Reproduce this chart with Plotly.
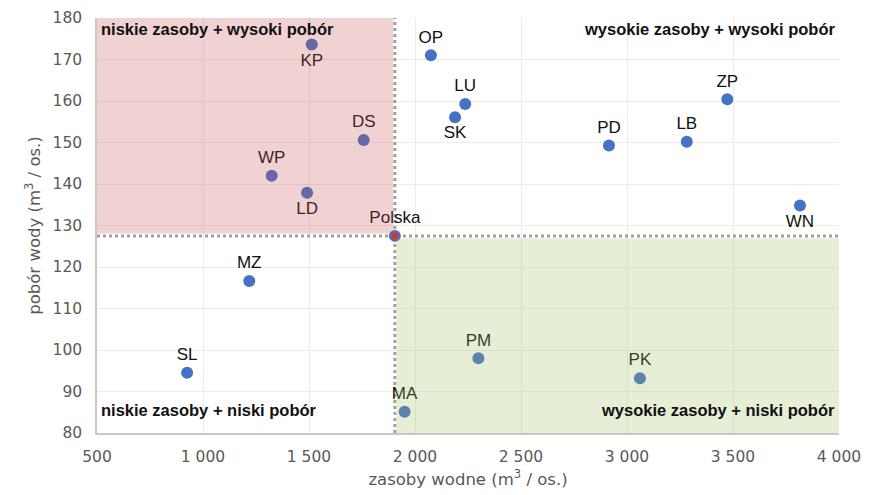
import plotly.graph_objects as go

# Data
regions = ["KP", "OP", "DS", "WP", "LD", "LU", "SK", "PD", "LB", "ZP", "WN", "MZ", "SL", "MA", "PM", "PK"]
zasoby = [1513, 2075, 1758, 1324, 1491, 2237, 2189, 2915, 3282, 3473, 3816, 1218, 925, 1951, 2299, 3061]
pobor = [173.6, 171.0, 150.6, 142.0, 137.9, 159.3, 156.1, 149.3, 150.2, 160.4, 134.8, 116.6, 94.5, 85.1, 98.0, 93.2]
label_pos = ["bottom center", "top center", "top center", "top center", "bottom center", "top center",
             "bottom center", "top center", "top center", "top center", "bottom center", "top center",
             "top center", "top center", "top center", "top center"]
polska_name = "Polska"
polska_x = 1905
polska_y = 127.5

x_min, x_max = 500, 4000
y_min, y_max = 80, 180
x_ticks = [500, 1000, 1500, 2000, 2500, 3000, 3500, 4000]
y_ticks = [80, 90, 100, 110, 120, 130, 140, 150, 160, 170, 180]

quadrants = ["niskie zasoby + wysoki pobór", "wysokie zasoby + wysoki pobór",
             "niskie zasoby + niski pobór", "wysokie zasoby + niski pobór"]

BLUE = "#4472C4"
LABEL_FONT = dict(family="Liberation Sans, Arial, sans-serif", size=17, color="#111111")

fig = go.Figure()

# crosshair dotted lines through Polska
fig.add_trace(go.Scatter(x=[x_min, x_max], y=[polska_y, polska_y], mode="lines",
                         line=dict(color="#A0A0A0", width=3, dash="3px,3px"),
                         hoverinfo="skip", showlegend=False))
fig.add_trace(go.Scatter(x=[polska_x, polska_x], y=[y_min, y_max], mode="lines",
                         line=dict(color="#A0A0A0", width=3, dash="3px,3px"),
                         hoverinfo="skip", showlegend=False))

# regions
fig.add_trace(go.Scatter(x=zasoby, y=pobor, mode="markers+text", text=regions,
                         textposition=label_pos, textfont=LABEL_FONT,
                         marker=dict(color=BLUE, size=12), showlegend=False))

# Polska
fig.add_trace(go.Scatter(x=[polska_x], y=[polska_y], mode="markers+text", text=[polska_name],
                         textposition="top center", textfont=LABEL_FONT,
                         marker=dict(color=BLUE, size=12), showlegend=False))
fig.add_trace(go.Scatter(x=[polska_x], y=[polska_y], mode="markers",
                         marker=dict(color="#E0301E", size=6, symbol="x-thin",
                                     line=dict(color="#E0301E", width=2.5)),
                         showlegend=False, hoverinfo="skip"))

# shaded quadrants (semi-transparent, above markers like the original)
fig.add_shape(type="rect", xref="x", yref="y", x0=x_min, x1=polska_x - 8, y0=polska_y + 0.6, y1=y_max,
              fillcolor="rgba(192,80,77,0.26)", line=dict(width=0), layer="above")
fig.add_shape(type="rect", xref="x", yref="y", x0=polska_x + 8, x1=x_max, y0=y_min, y1=polska_y - 0.6,
              fillcolor="rgba(155,187,89,0.25)", line=dict(width=0), layer="above")

QFONT = dict(family="Liberation Sans, Arial, sans-serif", size=16.5, color="#111111", weight="bold")
fig.add_annotation(x=0.003, y=1.0, xref="paper", yref="paper", text=quadrants[0], showarrow=False,
                   xanchor="left", yanchor="top", font=QFONT)
fig.add_annotation(x=0.997, y=1.0, xref="paper", yref="paper", text=quadrants[1], showarrow=False,
                   xanchor="right", yanchor="top", font=QFONT)
fig.add_annotation(x=0.003, y=0.03, xref="paper", yref="paper", text=quadrants[2], showarrow=False,
                   xanchor="left", yanchor="bottom", font=QFONT)
fig.add_annotation(x=0.997, y=0.03, xref="paper", yref="paper", text=quadrants[3], showarrow=False,
                   xanchor="right", yanchor="bottom", font=QFONT)

TICKFONT = dict(family="DejaVu Sans, sans-serif", size=15.5, color="#595959")
TITLEFONT = dict(family="DejaVu Sans, sans-serif", size=16.5, color="#595959")
fig.update_layout(
    width=884, height=495,
    margin=dict(l=89, r=53, t=10, b=70, autoexpand=False),
    paper_bgcolor="white", plot_bgcolor="white",
    separators=", ",
    xaxis=dict(range=[x_min, x_max], tickvals=x_ticks, tickformat=",d", automargin=False,
               showgrid=True, gridcolor="#EBEBEB", gridwidth=1,
               showline=True, linecolor="#C8C8C8", linewidth=1.5,
               zeroline=False, ticks="", tickfont=TICKFONT, ticklabelstandoff=9,
               title=dict(text="zasoby wodne (m<sup>3</sup> / os.)", standoff=8, font=TITLEFONT)),
    yaxis=dict(range=[y_min, y_max], tickvals=y_ticks, automargin=False,
               showgrid=True, gridcolor="#EBEBEB", gridwidth=1,
               showline=True, linecolor="#C8C8C8", linewidth=1.5,
               zeroline=False, ticks="", tickfont=TICKFONT, ticklabelstandoff=10,
               title=dict(text="pobór wody (m<sup>3</sup> / os.)", standoff=8, font=TITLEFONT)),
)

fig.write_html("out.html")
